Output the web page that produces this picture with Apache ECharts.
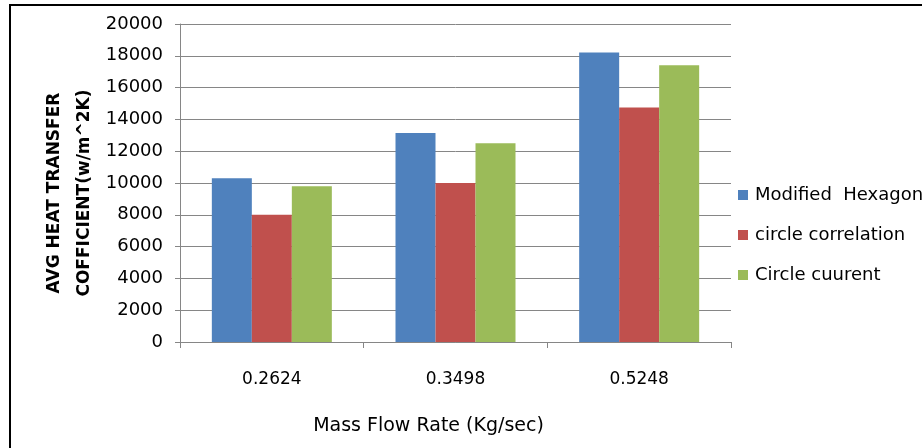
<!DOCTYPE html>
<html>
<head>
<meta charset="utf-8">
<script src="https://cdn.jsdelivr.net/npm/echarts@6/dist/echarts.min.js"></script>
<style>
html,body{margin:0;padding:0;background:#fff;}
#c{width:922px;height:448px;}
</style>
</head>
<body>
<div id="c"></div>
<script>
const categories = ['0.2624', '0.3498', '0.5248'];
const seriesNames = ['Modified  Hexagon', 'circle correlation', 'Circle cuurent'];
const modifiedHexagon = [10300, 13150, 18200];
const circleCorrelation = [8000, 10000, 14750];
const circleCurrent = [9800, 12500, 17400];
const colors = ['#4F81BD', '#C0504D', '#9BBB59'];

const chart = echarts.init(document.getElementById('c'), null, {renderer: 'canvas'});
const font = 'DejaVu Sans';
const mk = (name, data, color) => ({
  name: name,
  type: 'bar',
  data: data,
  barWidth: 40,
  barGap: '0%',
  itemStyle: {color: color},
  emphasis: {disabled: true}
});
chart.setOption({
  animation: false,
  color: colors,
  grid: {left: 180, top: 24, right: 191, bottom: 106, containLabel: false},
  graphic: [{
    type: 'rect', shape: {x: 10, y: 5, width: 1000, height: 1000},
    style: {fill: 'none', stroke: '#000', lineWidth: 2}, silent: true
  }],
  legend: {
    orient: 'vertical', left: 733, top: 181,
    itemWidth: 10, itemHeight: 10, itemGap: 22,
    icon: 'rect',
    textStyle: {fontFamily: font, fontSize: 18, color: '#000', padding: [0, 0, 0, 2]},
    data: seriesNames
  },
  xAxis: {
    type: 'category', data: categories,
    axisLine: {lineStyle: {color: '#868686', width: 1}},
    axisTick: {show: true, length: 6, lineStyle: {color: '#868686'}},
    axisLabel: {fontFamily: font, fontSize: 17, color: '#000', margin: 29},
    name: 'Mass Flow Rate (Kg/sec)', nameLocation: 'middle', nameGap: 75,
    nameTextStyle: {fontFamily: font, fontSize: 19, color: '#000', padding: [0, 54, 0, 0]}
  },
  yAxis: {
    type: 'value', min: 0, max: 20000, interval: 2000,
    axisLine: {show: true, lineStyle: {color: '#868686', width: 1}},
    axisTick: {show: true, length: 5, lineStyle: {color: '#868686'}},
    splitLine: {lineStyle: {color: '#868686', width: 1}},
    axisLabel: {fontFamily: font, fontSize: 18, color: '#000', margin: 17, formatter: v => String(v)},
    name: 'AVG HEAT TRANSFER\nCOFFICIENT(w/m^2K)', nameLocation: 'middle', nameGap: 80,
    nameMoveOverlap: false,
    nameTextStyle: {fontFamily: font, fontSize: 17, fontWeight: 'bold', color: '#000', lineHeight: 30, padding: [8, 20, 0, 0]}
  },
  series: [
    mk(seriesNames[0], modifiedHexagon, colors[0]),
    mk(seriesNames[1], circleCorrelation, colors[1]),
    mk(seriesNames[2], circleCurrent, colors[2])
  ]
});
</script>
</body>
</html>
